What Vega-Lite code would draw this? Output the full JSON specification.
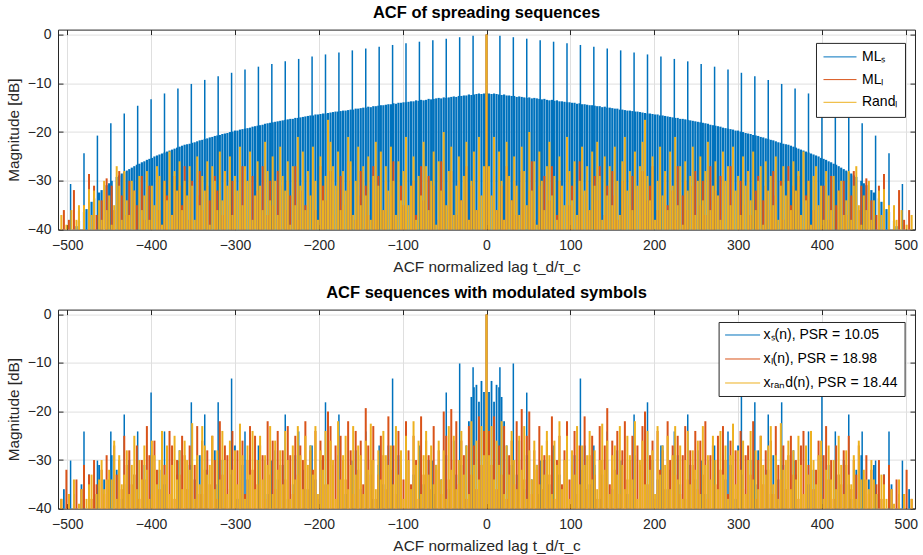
{
"$schema":"https://vega.github.io/schema/vega-lite/v6.json",
"background":"white",
"padding":{"left":6,"top":4.6,"right":5,"bottom":0},
"spacing":9,
"config":{
"font":"Liberation Sans",
"view":{"stroke":null},
"axis":{"labelFont":"Liberation Sans","labelFontSize":14,"labelColor":"#262626","titleFont":"Liberation Sans","titleFontSize":15.4,"titleFontWeight":"normal","titleColor":"#262626","tickColor":"#262626","tickSize":-5,"tickWidth":1,"domainColor":"#262626","domainWidth":1,"gridColor":"#dfdfdf","gridWidth":1,"labelFlush":false,"labelOverlap":false,"zindex":1},
"axisX":{"labelPadding":14,"titlePadding":7},
"axisY":{"labelPadding":12,"titlePadding":6},
"title":{"font":"Liberation Sans","fontSize":16.5,"fontWeight":"bold","color":"#000000","offset":6},
"legend":{"orient":"none","title":null,"strokeColor":"#262626","fillColor":"#ffffff","labelFont":"Liberation Sans","labelFontSize":14,"labelColor":"#000000","symbolType":"stroke","symbolStrokeWidth":1,"clipHeight":14}
},
"resolve":{"scale":{"color":"independent"},"legend":{"color":"independent"}},
"datasets":{
"t":[
{"x":-507,"r":-37},{"x":-504,"o":-36},{"x":-501,"r":-39},{"x":-498,"o":-38},{"x":-495,"r":-36},{"x":-492,"o":-31.9},{"x":-489,"b":-39.3,"r":-38},{"x":-486,"b":-38.2,"o":-36,"r":-35},{"x":-480,"b":-36.4,"o":-35,"r":-35},{"x":-477,"b":-35.8},{"x":-474,"o":-28.6,"r":-31.7},{"x":-471,"b":-34.3,"r":-37},{"x":-468,"b":-33.6,"o":-31,"r":-32},{"x":-465,"o":-37},{"x":-462,"b":-32.4,"r":-34},{"x":-459,"b":-31.9,"o":-34,"r":-38},{"x":-456,"r":-30},{"x":-453,"b":-30.9,"o":-29.5,"r":-36},{"x":-450,"b":-30.5,"r":-33},{"x":-447,"b":-30,"o":-31,"r":-39},{"x":-444,"o":-36,"r":-35},{"x":-441,"b":-29.2,"r":-27},{"x":-438,"b":-28.9,"o":-28,"r":-31},{"x":-435,"b":-28.5,"o":-33,"r":-38},{"x":-432,"b":-28.2,"r":-28},{"x":-429,"b":-27.9,"o":-37,"r":-34},{"x":-426,"b":-27.6,"o":-30,"r":-37},{"x":-423,"b":-27.3,"r":-30},{"x":-420,"b":-27,"o":-32,"r":-32},{"x":-417,"b":-26.7,"o":-35},{"x":-414,"b":-26.5,"r":-29},{"x":-411,"b":-26.2,"o":-29,"r":-36},{"x":-408,"b":-26,"o":-38,"r":-33},{"x":-405,"b":-25.7,"r":-28},{"x":-402,"b":-25.5,"o":-31,"r":-38},{"x":-399,"b":-25.3,"o":-34,"r":-31},{"x":-396,"b":-25,"r":-35},{"x":-393,"b":-24.8,"o":-28,"r":-27},{"x":-390,"b":-24.6,"o":-36,"r":-29},{"x":-387,"b":-24.4,"r":-39},{"x":-384,"b":-24.2,"o":-30,"r":-30},{"x":-381,"b":-24,"o":-33,"r":-34},{"x":-378,"b":-23.8,"r":-24},{"x":-375,"b":-23.6,"o":-37,"r":-37},{"x":-372,"b":-23.4,"o":-29,"r":-28},{"x":-369,"b":-23.2,"r":-32},{"x":-366,"b":-23,"o":-31,"r":-26},{"x":-363,"b":-22.8,"o":-35,"r":-36},{"x":-360,"b":-22.6,"o":-27,"r":-30},{"x":-357,"b":-22.5,"r":-33},{"x":-354,"b":-22.4,"o":-38,"r":-27},{"x":-351,"b":-22.2,"o":-30,"r":-31},{"x":-348,"b":-22.1,"r":-38},{"x":-345,"b":-21.9,"o":-33,"r":-25},{"x":-342,"b":-21.7,"o":-28,"r":-35},{"x":-339,"b":-21.6,"o":-36,"r":-29},{"x":-336,"b":-21.4,"r":-32},{"x":-333,"b":-21.3,"o":-31,"r":-26},{"x":-330,"b":-21.1,"o":-34,"r":-39},{"x":-327,"b":-21,"r":-27},{"x":-324,"b":-20.8,"o":-29,"r":-30},{"x":-321,"b":-20.7,"o":-32,"r":-36},{"x":-318,"b":-20.6,"r":-24},{"x":-315,"b":-20.4,"o":-37,"r":-34},{"x":-312,"b":-20.3,"o":-28,"r":-28},{"x":-309,"b":-20.2,"r":-31},{"x":-306,"b":-20,"o":-35,"r":-25},{"x":-303,"b":-19.9,"o":-30,"r":-37},{"x":-300,"b":-19.7,"o":-33,"r":-29},{"x":-297,"b":-19.7,"r":-32},{"x":-294,"b":-19.5,"o":-38,"r":-23},{"x":-291,"b":-19.4,"o":-27,"r":-35},{"x":-288,"b":-19.3,"o":-31,"r":-27},{"x":-285,"b":-19.2,"r":-30},{"x":-282,"b":-19.1,"o":-36,"r":-24},{"x":-279,"b":-18.9,"o":-29,"r":-38},{"x":-276,"b":-18.8,"r":-33},{"x":-273,"b":-18.7,"o":-32,"r":-26},{"x":-270,"b":-18.6,"o":-34,"r":-31},{"x":-267,"b":-18.5,"o":-27,"r":-36},{"x":-264,"b":-18.3,"r":-22},{"x":-261,"b":-18.2,"o":-37,"r":-28},{"x":-258,"b":-18.1,"o":-30,"r":-34},{"x":-255,"b":-18,"o":-35,"r":-25},{"x":-252,"b":-17.9,"r":-30},{"x":-249,"b":-17.8,"o":-28,"r":-37},{"x":-246,"b":-17.7,"o":-31,"r":-23},{"x":-243,"b":-17.6,"r":-29},{"x":-240,"b":-17.5,"o":-36,"r":-32},{"x":-237,"b":-17.4,"o":-30,"r":-26},{"x":-234,"b":-17.3,"o":-33,"r":-39},{"x":-231,"b":-17.3,"r":-27},{"x":-228,"b":-17.1,"o":-27,"r":-35},{"x":-225,"b":-17.1,"o":-38,"r":-21},{"x":-222,"b":-17,"o":-32,"r":-31},{"x":-219,"b":-16.9,"r":-24},{"x":-216,"b":-16.8,"o":-35,"r":-36},{"x":-213,"b":-16.7,"o":-29,"r":-28},{"x":-210,"b":-16.6,"r":-33},{"x":-207,"b":-16.6,"o":-30,"r":-23},{"x":-204,"b":-16.4,"o":-36,"r":-30},{"x":-201,"b":-16.4,"r":-38},{"x":-198,"b":-16.3,"o":-27,"r":-25},{"x":-195,"b":-16.2,"o":-31,"r":-34},{"x":-192,"b":-16.2,"o":-34,"r":-29},{"x":-189,"b":-16.1,"r":-17.5},{"x":-186,"b":-16,"o":-28,"r":-22},{"x":-183,"b":-15.9,"o":-37,"r":-27},{"x":-180,"b":-15.8,"r":-31},{"x":-177,"b":-15.8,"o":-32,"r":-24},{"x":-174,"b":-15.7,"o":-29,"r":-36},{"x":-171,"b":-15.6,"o":-35,"r":-28},{"x":-168,"b":-15.6,"r":-32},{"x":-165,"b":-15.5,"o":-26,"r":-21},{"x":-162,"b":-15.4,"o":-30,"r":-26},{"x":-159,"b":-15.4,"r":-37},{"x":-156,"b":-15.2,"o":-38,"r":-30},{"x":-153,"b":-15.2,"o":-33,"r":-23},{"x":-150,"b":-15.1,"o":-28,"r":-35},{"x":-147,"b":-15,"r":-27},{"x":-144,"b":-15,"o":-31,"r":-33},{"x":-141,"b":-14.8,"o":-37,"r":-25},{"x":-138,"b":-14.9,"r":-38},{"x":-135,"b":-14.7,"o":-27,"r":-29},{"x":-132,"b":-14.7,"o":-34,"r":-22},{"x":-129,"b":-14.6,"o":-29,"r":-31},{"x":-126,"b":-14.5,"r":-24},{"x":-123,"b":-14.5,"o":-36,"r":-36},{"x":-120,"b":-14.4,"o":-30,"r":-27},{"x":-117,"b":-14.3,"r":-32},{"x":-114,"b":-14.3,"o":-33,"r":-23},{"x":-111,"b":-14.1,"o":-26,"r":-30},{"x":-108,"b":-14.2,"o":-38,"r":-37},{"x":-105,"b":-14,"r":-26},{"x":-102,"b":-14,"o":-31,"r":-34},{"x":-99,"b":-13.9,"o":-35,"r":-28},{"x":-96,"b":-13.9,"o":-28,"r":-21},{"x":-93,"b":-13.8,"r":-35},{"x":-90,"b":-13.7,"o":-33,"r":-31},{"x":-87,"b":-13.7,"o":-30,"r":-25},{"x":-84,"b":-13.5,"o":-37,"r":-38},{"x":-81,"b":-13.6,"r":-29},{"x":-78,"b":-13.4,"o":-27,"r":-33},{"x":-75,"b":-13.5,"o":-34,"r":-22},{"x":-72,"b":-13.4,"r":-27},{"x":-69,"b":-13.2,"o":-29,"r":-36},{"x":-66,"b":-13.3,"o":-36,"r":-30},{"x":-63,"b":-13.2,"o":-31,"r":-24},{"x":-60,"b":-13.1,"r":-39},{"x":-57,"b":-13,"o":-38,"r":-26},{"x":-54,"b":-13.1,"o":-26,"r":-32},{"x":-51,"b":-12.9,"o":-32,"r":-20},{"x":-48,"b":-13,"r":-35},{"x":-45,"b":-12.9,"o":-35,"r":-28},{"x":-42,"b":-12.8,"o":-28,"r":-23},{"x":-39,"b":-12.7,"r":-37},{"x":-36,"b":-12.8,"o":-37,"r":-31},{"x":-33,"b":-12.6,"o":-30,"r":-25},{"x":-30,"b":-12.6,"o":-34,"r":-34},{"x":-27,"b":-12.5,"r":-29},{"x":-24,"b":-12.5,"o":-27,"r":-22},{"x":-21,"b":-12.3,"o":-38,"r":-38},{"x":-18,"b":-12.4,"o":-31,"r":-30},{"x":-15,"b":-12.3,"r":-24},{"x":-12,"b":-12.2,"o":-36,"r":-36},{"x":-9,"b":-12.1,"o":-29,"r":-21},{"x":-6,"b":-12.2,"r":-33},{"x":-3,"b":-12.1,"o":-33,"r":-27},
{"x":0,"b":-12,"o":0,"r":0},
{"x":3,"b":-12.1,"o":-33,"r":-27},{"x":6,"b":-12.2,"r":-33},{"x":9,"b":-12.1,"o":-29,"r":-21},{"x":12,"b":-12.2,"o":-36,"r":-36},{"x":15,"b":-12.3,"r":-24},{"x":18,"b":-12.4,"o":-31,"r":-30},{"x":21,"b":-12.3,"o":-38,"r":-38},{"x":24,"b":-12.5,"o":-27,"r":-22},{"x":27,"b":-12.5,"r":-29},{"x":30,"b":-12.6,"o":-34,"r":-34},{"x":33,"b":-12.6,"o":-30,"r":-25},{"x":36,"b":-12.8,"o":-37,"r":-31},{"x":39,"b":-12.7,"r":-37},{"x":42,"b":-12.8,"o":-28,"r":-23},{"x":45,"b":-12.9,"o":-35,"r":-28},{"x":48,"b":-13,"r":-35},{"x":51,"b":-12.9,"o":-32,"r":-20},{"x":54,"b":-13.1,"o":-26,"r":-32},{"x":57,"b":-13,"o":-38,"r":-26},{"x":60,"b":-13.1,"r":-39},{"x":63,"b":-13.2,"o":-31,"r":-24},{"x":66,"b":-13.3,"o":-36,"r":-30},{"x":69,"b":-13.2,"o":-29,"r":-36},{"x":72,"b":-13.4,"r":-27},{"x":75,"b":-13.5,"o":-34,"r":-22},{"x":78,"b":-13.4,"o":-27,"r":-33},{"x":81,"b":-13.6,"r":-29},{"x":84,"b":-13.5,"o":-37,"r":-38},{"x":87,"b":-13.7,"o":-30,"r":-25},{"x":90,"b":-13.7,"o":-33,"r":-31},{"x":93,"b":-13.8,"r":-35},{"x":96,"b":-13.9,"o":-28,"r":-21},{"x":99,"b":-13.9,"o":-35,"r":-28},{"x":102,"b":-14,"o":-31,"r":-34},{"x":105,"b":-14,"r":-26},{"x":108,"b":-14.2,"o":-38,"r":-37},{"x":111,"b":-14.1,"o":-26,"r":-30},{"x":114,"b":-14.3,"o":-33,"r":-23},{"x":117,"b":-14.3,"r":-32},{"x":120,"b":-14.4,"o":-30,"r":-27},{"x":123,"b":-14.5,"o":-36,"r":-36},{"x":126,"b":-14.5,"r":-24},{"x":129,"b":-14.6,"o":-29,"r":-31},{"x":132,"b":-14.7,"o":-34,"r":-22},{"x":135,"b":-14.7,"o":-27,"r":-29},{"x":138,"b":-14.9,"r":-38},{"x":141,"b":-14.8,"o":-37,"r":-25},{"x":144,"b":-15,"o":-31,"r":-33},{"x":147,"b":-15,"r":-27},{"x":150,"b":-15.1,"o":-28,"r":-35},{"x":153,"b":-15.2,"o":-33,"r":-23},{"x":156,"b":-15.2,"o":-38,"r":-30},{"x":159,"b":-15.4,"r":-37},{"x":162,"b":-15.4,"o":-30,"r":-26},{"x":165,"b":-15.5,"o":-26,"r":-21},{"x":168,"b":-15.6,"r":-32},{"x":171,"b":-15.6,"o":-35,"r":-28},{"x":174,"b":-15.7,"o":-29,"r":-36},{"x":177,"b":-15.8,"o":-32,"r":-24},{"x":180,"b":-15.8,"r":-31},{"x":183,"b":-15.9,"o":-37,"r":-27},{"x":186,"b":-16,"o":-28,"r":-22},{"x":189,"b":-16.1,"r":-17.5},{"x":192,"b":-16.2,"o":-34,"r":-29},{"x":195,"b":-16.2,"o":-31,"r":-34},{"x":198,"b":-16.3,"o":-27,"r":-25},{"x":201,"b":-16.4,"r":-38},{"x":204,"b":-16.4,"o":-36,"r":-30},{"x":207,"b":-16.6,"o":-30,"r":-23},{"x":210,"b":-16.6,"r":-33},{"x":213,"b":-16.7,"o":-29,"r":-28},{"x":216,"b":-16.8,"o":-35,"r":-36},{"x":219,"b":-16.9,"r":-24},{"x":222,"b":-17,"o":-32,"r":-31},{"x":225,"b":-17.1,"o":-38,"r":-21},{"x":228,"b":-17.1,"o":-27,"r":-35},{"x":231,"b":-17.3,"r":-27},{"x":234,"b":-17.3,"o":-33,"r":-39},{"x":237,"b":-17.4,"o":-30,"r":-26},{"x":240,"b":-17.5,"o":-36,"r":-32},{"x":243,"b":-17.6,"r":-29},{"x":246,"b":-17.7,"o":-31,"r":-23},{"x":249,"b":-17.8,"o":-28,"r":-37},{"x":252,"b":-17.9,"r":-30},{"x":255,"b":-18,"o":-35,"r":-25},{"x":258,"b":-18.1,"o":-30,"r":-34},{"x":261,"b":-18.2,"o":-37,"r":-28},{"x":264,"b":-18.3,"r":-22},{"x":267,"b":-18.5,"o":-27,"r":-36},{"x":270,"b":-18.6,"o":-34,"r":-31},{"x":273,"b":-18.7,"o":-32,"r":-26},{"x":276,"b":-18.8,"r":-33},{"x":279,"b":-18.9,"o":-29,"r":-38},{"x":282,"b":-19.1,"o":-36,"r":-24},{"x":285,"b":-19.2,"r":-30},{"x":288,"b":-19.3,"o":-31,"r":-27},{"x":291,"b":-19.4,"o":-27,"r":-35},{"x":294,"b":-19.5,"o":-38,"r":-23},{"x":297,"b":-19.7,"r":-32},{"x":300,"b":-19.7,"o":-33,"r":-29},{"x":303,"b":-19.9,"o":-30,"r":-37},{"x":306,"b":-20,"o":-35,"r":-25},{"x":309,"b":-20.2,"r":-31},{"x":312,"b":-20.3,"o":-28,"r":-28},{"x":315,"b":-20.4,"o":-37,"r":-34},{"x":318,"b":-20.6,"r":-24},{"x":321,"b":-20.7,"o":-32,"r":-36},{"x":324,"b":-20.8,"o":-29,"r":-30},{"x":327,"b":-21,"r":-27},{"x":330,"b":-21.1,"o":-34,"r":-39},{"x":333,"b":-21.3,"o":-31,"r":-26},{"x":336,"b":-21.4,"r":-32},{"x":339,"b":-21.6,"o":-36,"r":-29},{"x":342,"b":-21.7,"o":-28,"r":-35},{"x":345,"b":-21.9,"o":-33,"r":-25},{"x":348,"b":-22.1,"r":-38},{"x":351,"b":-22.2,"o":-30,"r":-31},{"x":354,"b":-22.4,"o":-38,"r":-27},{"x":357,"b":-22.5,"r":-33},{"x":360,"b":-22.6,"o":-27,"r":-30},{"x":363,"b":-22.8,"o":-35,"r":-36},{"x":366,"b":-23,"o":-31,"r":-26},{"x":369,"b":-23.2,"r":-32},{"x":372,"b":-23.4,"o":-29,"r":-28},{"x":375,"b":-23.6,"o":-37,"r":-37},{"x":378,"b":-23.8,"r":-24},{"x":381,"b":-24,"o":-33,"r":-34},{"x":384,"b":-24.2,"o":-30,"r":-30},{"x":387,"b":-24.4,"r":-39},{"x":390,"b":-24.6,"o":-36,"r":-29},{"x":393,"b":-24.8,"o":-28,"r":-27},{"x":396,"b":-25,"r":-35},{"x":399,"b":-25.3,"o":-34,"r":-31},{"x":402,"b":-25.5,"o":-31,"r":-38},{"x":405,"b":-25.7,"r":-28},{"x":408,"b":-26,"o":-38,"r":-33},{"x":411,"b":-26.2,"o":-29,"r":-36},{"x":414,"b":-26.5,"r":-29},{"x":417,"b":-26.7,"o":-35},{"x":420,"b":-27,"o":-32,"r":-32},{"x":423,"b":-27.3,"r":-30},{"x":426,"b":-27.6,"o":-30,"r":-37},{"x":429,"b":-27.9,"o":-37,"r":-34},{"x":432,"b":-28.2,"r":-28},{"x":435,"b":-28.5,"o":-33,"r":-38},{"x":438,"b":-28.9,"o":-28,"r":-31},{"x":441,"b":-29.2,"r":-27},{"x":444,"o":-36,"r":-35},{"x":447,"b":-30,"o":-31,"r":-39},{"x":450,"b":-30.5,"r":-33},{"x":453,"b":-30.9,"o":-29.5,"r":-36},{"x":456,"r":-30},{"x":459,"b":-31.9,"o":-34,"r":-38},{"x":462,"b":-32.4,"r":-34},{"x":465,"o":-37},{"x":468,"b":-33.6,"o":-31,"r":-32},{"x":471,"b":-34.3,"r":-37},{"x":474,"o":-28.6,"r":-31.7},{"x":477,"b":-35.8},{"x":480,"b":-36.4,"o":-35,"r":-35},{"x":486,"b":-38.2,"o":-36,"r":-35},{"x":489,"b":-39.3,"r":-38},{"x":492,"o":-31.9},{"x":495,"r":-36},{"x":498,"o":-38},{"x":501,"r":-39},{"x":504,"o":-36},{"x":507,"r":-37}
],
"tp":[
{"x":-496,"y":-30.65},{"x":-480,"y":-24.34},{"x":-464,"y":-20.73},{"x":-448,"y":-18.18},{"x":-432,"y":-16.22},{"x":-416,"y":-14.61},{"x":-400,"y":-13.26},{"x":-384,"y":-12.09},{"x":-368,"y":-11.06},{"x":-352,"y":-10.14},{"x":-336,"y":-9.31},{"x":-320,"y":-8.55},{"x":-304,"y":-7.85},{"x":-288,"y":-7.2},{"x":-272,"y":-6.6},{"x":-256,"y":-6.04},{"x":-240,"y":-5.51},{"x":-224,"y":-5.01},{"x":-208,"y":-4.54},{"x":-192,"y":-4.09},{"x":-176,"y":-3.67},{"x":-160,"y":-3.26},{"x":-144,"y":-2.88},{"x":-128,"y":-2.5},{"x":-112,"y":-2.15},{"x":-96,"y":-1.81},{"x":-80,"y":-1.48},{"x":-64,"y":-1.16},{"x":-48,"y":-0.86},{"x":-32,"y":-0.56},{"x":-16,"y":-0.28},{"x":0,"y":0},{"x":16,"y":-0.28},{"x":32,"y":-0.56},{"x":48,"y":-0.86},{"x":64,"y":-1.16},{"x":80,"y":-1.48},{"x":96,"y":-1.81},{"x":112,"y":-2.15},{"x":128,"y":-2.5},{"x":144,"y":-2.88},{"x":160,"y":-3.26},{"x":176,"y":-3.67},{"x":192,"y":-4.09},{"x":208,"y":-4.54},{"x":224,"y":-5.01},{"x":240,"y":-5.51},{"x":256,"y":-6.04},{"x":272,"y":-6.6},{"x":288,"y":-7.2},{"x":304,"y":-7.85},{"x":320,"y":-8.55},{"x":336,"y":-9.31},{"x":352,"y":-10.14},{"x":368,"y":-11.06},{"x":384,"y":-12.09},{"x":400,"y":-13.26},{"x":416,"y":-14.61},{"x":432,"y":-16.22},{"x":448,"y":-18.18},{"x":464,"y":-20.73},{"x":480,"y":-24.34},{"x":496,"y":-30.65}
],
"b":[
{"x":-507,"o":-38,"r":-38},{"x":-504,"s":-36},{"x":-501,"o":-32},{"x":-498,"s":-39,"o":-37,"r":-37},{"x":-492,"s":-37,"o":-39,"r":-34},{"x":-489,"o":-34},{"x":-486,"r":-39},{"x":-483,"s":-35,"o":-36,"r":-36},{"x":-480,"s":-38,"o":-31},{"x":-477,"r":-38},{"x":-474,"s":-33,"o":-33,"r":-35},{"x":-471,"o":-38,"r":-33},{"x":-468,"o":-30},{"x":-465,"s":-37,"o":-35,"r":-37},{"x":-462,"s":-31,"r":-34},{"x":-459,"o":-32,"r":-30},{"x":-456,"s":-34,"o":-37,"r":-36},{"x":-453,"o":-29,"r":-34},{"x":-450,"s":-36,"o":-34,"r":-32},{"x":-447,"s":-29,"r":-34},{"x":-444,"o":-27,"r":-26},{"x":-441,"s":-32,"o":-33,"r":-38},{"x":-438,"o":-30,"r":-29},{"x":-435,"s":-38,"o":-36,"r":-35},{"x":-432,"s":-35,"o":-25,"r":-33},{"x":-429,"o":-31,"r":-28},{"x":-426,"s":-30,"o":-28,"r":-37},{"x":-423,"o":-35,"r":-31},{"x":-420,"s":-33,"o":-33,"r":-25},{"x":-417,"s":-36,"o":-27,"r":-36},{"x":-414,"o":-38,"r":-30},{"x":-411,"o":-30,"r":-34},{"x":-408,"s":-31,"o":-34,"r":-27},{"x":-405,"s":-34,"o":-23,"r":-32},{"x":-402,"o":-29,"r":-38},{"x":-399,"s":-29,"o":-37,"r":-26},{"x":-396,"o":-26,"r":-29},{"x":-393,"s":-37,"o":-32,"r":-35},{"x":-390,"s":-32,"o":-36,"r":-30},{"x":-387,"o":-28,"r":-24},{"x":-384,"s":-35,"o":-31,"r":-33},{"x":-381,"s":-30,"o":-35,"r":-27},{"x":-378,"o":-24,"r":-37},{"x":-375,"s":-38,"o":-27,"r":-31},{"x":-372,"o":-38,"r":-25},{"x":-369,"s":-33,"o":-30,"r":-34},{"x":-366,"s":-28,"o":-33,"r":-28},{"x":-363,"o":-25,"r":-36},{"x":-360,"o":-29,"r":-26},{"x":-357,"s":-36,"o":-36,"r":-30},{"x":-354,"s":-31,"o":-27,"r":-32},{"x":-351,"o":-34,"r":-22.4},{"x":-348,"s":-34,"o":-31,"r":-38},{"x":-345,"o":-23,"r":-29},{"x":-342,"s":-29,"o":-37,"r":-35},{"x":-339,"s":-37,"o":-26,"r":-23},{"x":-336,"o":-32,"r":-27},{"x":-333,"s":-32,"o":-28,"r":-33},{"x":-330,"o":-35,"r":-31},{"x":-327,"o":-25,"r":-25},{"x":-324,"s":-28,"o":-30,"r":-36},{"x":-321,"s":-35,"o":-38,"r":-28},{"x":-318,"o":-22,"r":-34},{"x":-315,"s":-30,"o":-33,"r":-24},{"x":-312,"s":-36,"o":-27,"r":-30},{"x":-309,"o":-29,"r":-37},{"x":-306,"s":-33,"o":-36,"r":-26},{"x":-303,"o":-24,"r":-32},{"x":-300,"s":-27,"o":-31,"r":-28},{"x":-297,"s":-38,"o":-28,"r":-35},{"x":-294,"o":-34,"r":-22.5},{"x":-291,"s":-31,"o":-26,"r":-29},{"x":-288,"o":-37,"r":-38},{"x":-285,"s":-34,"o":-30,"r":-27},{"x":-282,"s":-29,"o":-23,"r":-33},{"x":-279,"o":-32,"r":-24},{"x":-276,"s":-36,"o":-25,"r":-36},{"x":-273,"o":-35,"r":-30},{"x":-270,"s":-33,"o":-27,"r":-25},{"x":-267,"o":-29,"r":-34},{"x":-264,"s":-30,"o":-38,"r":-29},{"x":-261,"s":-37,"o":-22,"r":-31},{"x":-258,"o":-33,"r":-23},{"x":-255,"o":-26,"r":-37},{"x":-252,"s":-28,"o":-36,"r":-26},{"x":-249,"s":-34,"o":-24,"r":-32},{"x":-246,"o":-31,"r":-28},{"x":-243,"s":-31,"o":-28,"r":-35},{"x":-240,"o":-34,"r":-24},{"x":-237,"s":-38,"o":-23,"r":-30},{"x":-234,"o":-29,"r":-38},{"x":-231,"s":-35,"o":-37,"r":-27},{"x":-228,"s":-29,"o":-25,"r":-34},{"x":-225,"o":-33,"r":-23},{"x":-222,"o":-27,"r":-29},{"x":-219,"s":-32,"o":-30,"r":-36},{"x":-216,"s":-36,"o":-22,"r":-25},{"x":-213,"o":-36,"r":-31},{"x":-210,"s":-27,"o":-28,"r":-27},{"x":-207,"o":-32,"r":-33},{"x":-204,"s":-34,"o":-24,"r":-23},{"x":-201,"o":-38,"r":-37},{"x":-198,"s":-30,"o":-26,"r":-28},{"x":-195,"s":-38,"o":-29,"r":-32},{"x":-192,"o":-35,"r":-24},{"x":-189,"s":-31,"o":-20,"r":-35},{"x":-186,"o":-23,"r":-26},{"x":-183,"s":-35,"o":-31,"r":-30},{"x":-180,"o":-27,"r":-38},{"x":-177,"s":-29,"o":-36,"r":-22},{"x":-174,"o":-25,"r":-34},{"x":-171,"s":-32,"o":-30,"r":-29},{"x":-168,"s":-37,"o":-34,"r":-25},{"x":-165,"o":-22,"r":-36},{"x":-162,"o":-28,"r":-31},{"x":-159,"s":-34,"o":-37,"r":-23},{"x":-156,"s":-28,"o":-24,"r":-33},{"x":-153,"o":-32,"r":-27},{"x":-150,"s":-36,"o":-26,"r":-29},{"x":-147,"o":-35,"r":-37},{"x":-144,"s":-30,"o":-19.3,"r":-26},{"x":-141,"o":-27,"r":-32},{"x":-138,"s":-33,"o":-30,"r":-22.5},{"x":-135,"s":-38,"o":-23,"r":-30},{"x":-132,"o":-38,"r":-36},{"x":-129,"s":-31,"o":-33,"r":-28},{"x":-126,"o":-25,"r":-34},{"x":-123,"s":-35,"o":-29,"r":-24},{"x":-120,"o":-36,"r":-29},{"x":-117,"s":-27,"o":-21,"r":-31},{"x":-114,"s":-34,"o":-32,"r":-27},{"x":-111,"o":-27,"r":-35},{"x":-108,"o":-37,"r":-23},{"x":-105,"s":-29,"o":-24,"r":-33},{"x":-102,"s":-36,"o":-31,"r":-28},{"x":-99,"o":-34,"r":-38},{"x":-96,"s":-32,"o":-22,"r":-25},{"x":-93,"o":-28,"r":-30},{"x":-90,"s":-38,"o":-35,"r":-36},{"x":-87,"s":-33,"o":-25,"r":-22},{"x":-84,"o":-30,"r":-31},{"x":-81,"o":-38,"r":-26},{"x":-78,"s":-28,"o":-21,"r":-37},{"x":-75,"s":-35,"o":-33,"r":-29},{"x":-72,"o":-26,"r":-24},{"x":-69,"s":-30,"o":-29,"r":-33},{"x":-66,"o":-36,"r":-27},{"x":-63,"s":-37,"o":-23,"r":-35},{"x":-60,"s":-31,"o":-32,"r":-31},{"x":-57,"o":-28,"r":-26},{"x":-54,"s":-34,"o":-37,"r":-34},{"x":-51,"o":-20,"r":-28},{"x":-48,"s":-29,"o":-25,"r":-38},{"x":-45,"s":-36,"o":-34,"r":-23},{"x":-42,"o":-19.5,"r":-32},{"x":-39,"s":-26,"o":-30,"r":-25},{"x":-36,"s":-33,"o":-22,"r":-36},{"x":-33,"o":-35,"r":-30},{"x":-30,"s":-31,"o":-26,"r":-24},{"x":-27,"o":-29,"r":-33},{"x":-24,"s":-27,"o":-38,"r":-27},{"x":-21,"s":-22,"o":-23,"r":-37},{"x":-18,"s":-17,"o":-33,"r":-22},{"x":-15,"s":-15,"o":-27,"r":-31},{"x":-12,"s":-14.5,"o":-36,"r":-26},{"x":-9,"s":-18,"o":-21,"r":-34},{"x":-6,"s":-13.7,"o":-31,"r":-23},{"x":-3,"s":-16,"o":-24,"r":-29},
{"x":0,"o":0,"r":0},
{"x":3,"s":-16,"o":-24,"r":-29},{"x":6,"s":-13.7,"o":-31,"r":-23},{"x":9,"s":-18,"o":-21,"r":-34},{"x":12,"s":-14.5,"o":-36,"r":-26},{"x":15,"s":-15,"o":-27,"r":-31},{"x":18,"s":-17,"o":-33,"r":-22},{"x":21,"s":-22,"o":-23,"r":-37},{"x":24,"s":-27,"o":-38,"r":-27},{"x":27,"o":-29,"r":-33},{"x":30,"s":-31,"o":-26,"r":-24},{"x":33,"o":-35,"r":-30},{"x":36,"s":-33,"o":-22,"r":-36},{"x":39,"s":-26,"o":-30,"r":-25},{"x":42,"o":-19.5,"r":-32},{"x":45,"s":-36,"o":-34,"r":-23},{"x":48,"s":-29,"o":-25,"r":-38},{"x":51,"o":-20,"r":-28},{"x":54,"s":-34,"o":-37,"r":-34},{"x":57,"o":-28,"r":-26},{"x":60,"s":-31,"o":-32,"r":-31},{"x":63,"s":-37,"o":-23,"r":-35},{"x":66,"o":-36,"r":-27},{"x":69,"s":-30,"o":-29,"r":-33},{"x":72,"o":-26,"r":-24},{"x":75,"s":-35,"o":-33,"r":-29},{"x":78,"s":-28,"o":-21,"r":-37},{"x":81,"o":-38,"r":-26},{"x":84,"o":-30,"r":-31},{"x":87,"s":-33,"o":-25,"r":-22},{"x":90,"s":-38,"o":-35,"r":-36},{"x":93,"o":-28,"r":-30},{"x":96,"s":-32,"o":-22,"r":-25},{"x":99,"o":-34,"r":-38},{"x":102,"s":-36,"o":-31,"r":-28},{"x":105,"s":-29,"o":-24,"r":-33},{"x":108,"o":-37,"r":-23},{"x":111,"o":-27,"r":-35},{"x":114,"s":-34,"o":-32,"r":-27},{"x":117,"s":-27,"o":-21,"r":-31},{"x":120,"o":-36,"r":-29},{"x":123,"s":-35,"o":-29,"r":-24},{"x":126,"o":-25,"r":-34},{"x":129,"s":-31,"o":-33,"r":-28},{"x":132,"o":-38,"r":-36},{"x":135,"s":-38,"o":-23,"r":-30},{"x":138,"s":-33,"o":-30,"r":-22.5},{"x":141,"o":-27,"r":-32},{"x":144,"s":-30,"o":-19.3,"r":-26},{"x":147,"o":-35,"r":-37},{"x":150,"s":-36,"o":-26,"r":-29},{"x":153,"o":-32,"r":-27},{"x":156,"s":-28,"o":-24,"r":-33},{"x":159,"s":-34,"o":-37,"r":-23},{"x":162,"o":-28,"r":-31},{"x":165,"o":-22,"r":-36},{"x":168,"s":-37,"o":-34,"r":-25},{"x":171,"s":-32,"o":-30,"r":-29},{"x":174,"o":-25,"r":-34},{"x":177,"s":-29,"o":-36,"r":-22},{"x":180,"o":-27,"r":-38},{"x":183,"s":-35,"o":-31,"r":-30},{"x":186,"o":-23,"r":-26},{"x":189,"s":-31,"o":-20,"r":-35},{"x":192,"o":-35,"r":-24},{"x":195,"s":-38,"o":-29,"r":-32},{"x":198,"s":-30,"o":-26,"r":-28},{"x":201,"o":-38,"r":-37},{"x":204,"s":-34,"o":-24,"r":-23},{"x":207,"o":-32,"r":-33},{"x":210,"s":-27,"o":-28,"r":-27},{"x":213,"o":-36,"r":-31},{"x":216,"s":-36,"o":-22,"r":-25},{"x":219,"s":-32,"o":-30,"r":-36},{"x":222,"o":-27,"r":-29},{"x":225,"o":-33,"r":-23},{"x":228,"s":-29,"o":-25,"r":-34},{"x":231,"s":-35,"o":-37,"r":-27},{"x":234,"o":-29,"r":-38},{"x":237,"s":-38,"o":-23,"r":-30},{"x":240,"o":-34,"r":-24},{"x":243,"s":-31,"o":-28,"r":-35},{"x":246,"o":-31,"r":-28},{"x":249,"s":-34,"o":-24,"r":-32},{"x":252,"s":-28,"o":-36,"r":-26},{"x":255,"o":-26,"r":-37},{"x":258,"o":-33,"r":-23},{"x":261,"s":-37,"o":-22,"r":-31},{"x":264,"s":-30,"o":-38,"r":-29},{"x":267,"o":-29,"r":-34},{"x":270,"s":-33,"o":-27,"r":-25},{"x":273,"o":-35,"r":-30},{"x":276,"s":-36,"o":-25,"r":-36},{"x":279,"o":-32,"r":-24},{"x":282,"s":-29,"o":-23,"r":-33},{"x":285,"s":-34,"o":-30,"r":-27},{"x":288,"o":-37,"r":-38},{"x":291,"s":-31,"o":-26,"r":-29},{"x":294,"o":-34,"r":-22.5},{"x":297,"s":-38,"o":-28,"r":-35},{"x":300,"s":-27,"o":-31,"r":-28},{"x":303,"o":-24,"r":-32},{"x":306,"s":-33,"o":-36,"r":-26},{"x":309,"o":-29,"r":-37},{"x":312,"s":-36,"o":-27,"r":-30},{"x":315,"s":-30,"o":-33,"r":-24},{"x":318,"o":-22,"r":-34},{"x":321,"s":-35,"o":-38,"r":-28},{"x":324,"s":-28,"o":-30,"r":-36},{"x":327,"o":-25,"r":-25},{"x":330,"o":-35,"r":-31},{"x":333,"s":-32,"o":-28,"r":-33},{"x":336,"o":-32,"r":-27},{"x":339,"s":-37,"o":-26,"r":-23},{"x":342,"s":-29,"o":-37,"r":-35},{"x":345,"o":-23,"r":-29},{"x":348,"s":-34,"o":-31,"r":-38},{"x":351,"o":-34,"r":-22.4},{"x":354,"s":-31,"o":-27,"r":-32},{"x":357,"s":-36,"o":-36,"r":-30},{"x":360,"o":-29,"r":-26},{"x":363,"o":-25,"r":-36},{"x":366,"s":-28,"o":-33,"r":-28},{"x":369,"s":-33,"o":-30,"r":-34},{"x":372,"o":-38,"r":-25},{"x":375,"s":-38,"o":-27,"r":-31},{"x":378,"o":-24,"r":-37},{"x":381,"s":-30,"o":-35,"r":-27},{"x":384,"s":-35,"o":-31,"r":-33},{"x":387,"o":-28,"r":-24},{"x":390,"s":-32,"o":-36,"r":-30},{"x":393,"s":-37,"o":-32,"r":-35},{"x":396,"o":-26,"r":-29},{"x":399,"s":-29,"o":-37,"r":-26},{"x":402,"o":-29,"r":-38},{"x":405,"s":-34,"o":-23,"r":-32},{"x":408,"s":-31,"o":-34,"r":-27},{"x":411,"o":-30,"r":-34},{"x":414,"o":-38,"r":-30},{"x":417,"s":-36,"o":-27,"r":-36},{"x":420,"s":-33,"o":-33,"r":-25},{"x":423,"o":-35,"r":-31},{"x":426,"s":-30,"o":-28,"r":-37},{"x":429,"o":-31,"r":-28},{"x":432,"s":-35,"o":-25,"r":-33},{"x":435,"s":-38,"o":-36,"r":-35},{"x":438,"o":-30,"r":-29},{"x":441,"s":-32,"o":-33,"r":-38},{"x":444,"o":-27,"r":-26},{"x":447,"s":-29,"r":-34},{"x":450,"s":-36,"o":-34,"r":-32},{"x":453,"o":-29,"r":-34},{"x":456,"s":-34,"o":-37,"r":-36},{"x":459,"o":-32,"r":-30},{"x":462,"s":-31,"r":-34},{"x":465,"s":-37,"o":-35,"r":-37},{"x":468,"o":-30},{"x":471,"o":-38,"r":-33},{"x":474,"s":-33,"o":-33,"r":-35},{"x":477,"r":-38},{"x":480,"s":-38,"o":-31},{"x":483,"s":-35,"o":-36,"r":-36},{"x":486,"r":-39},{"x":489,"o":-34},{"x":492,"s":-37,"o":-39,"r":-34},{"x":498,"s":-39,"o":-37,"r":-37},{"x":501,"o":-32},{"x":504,"s":-36},{"x":507,"o":-38,"r":-38}
],
"bp":[
{"x":-496,"y":-30.1},{"x":-480,"y":-24.1},{"x":-464,"y":-30.1},{"x":-448,"y":-24.1},{"x":-432,"y":-20.6},{"x":-416,"y":-24.1},{"x":-400,"y":-16.1},{"x":-384,"y":-24.1},{"x":-368,"y":-30.1},{"x":-352,"y":-18.1},{"x":-336,"y":-20.6},{"x":-320,"y":-18.1},{"x":-304,"y":-13.2},{"x":-288,"y":-24.1},{"x":-272,"y":-27},{"x":-256,"y":-30.1},{"x":-240,"y":-20.6},{"x":-224,"y":-24.1},{"x":-208,"y":-27},{"x":-192,"y":-18.1},{"x":-176,"y":-20.6},{"x":-160,"y":-30.1},{"x":-144,"y":-24.1},{"x":-128,"y":-27},{"x":-112,"y":-13.2},{"x":-96,"y":-24.1},{"x":-80,"y":-27},{"x":-64,"y":-30.1},{"x":-48,"y":-16.1},{"x":-32,"y":-10.1},{"x":-16,"y":-10.9},{"x":0,"y":0},{"x":16,"y":-10.9},{"x":32,"y":-10.1},{"x":48,"y":-16.1},{"x":64,"y":-30.1},{"x":80,"y":-27},{"x":96,"y":-24.1},{"x":112,"y":-13.2},{"x":128,"y":-27},{"x":144,"y":-24.1},{"x":160,"y":-30.1},{"x":176,"y":-20.6},{"x":192,"y":-18.1},{"x":208,"y":-27},{"x":224,"y":-24.1},{"x":240,"y":-20.6},{"x":256,"y":-30.1},{"x":272,"y":-27},{"x":288,"y":-24.1},{"x":304,"y":-13.2},{"x":320,"y":-18.1},{"x":336,"y":-20.6},{"x":352,"y":-18.1},{"x":368,"y":-30.1},{"x":384,"y":-24.1},{"x":400,"y":-16.1},{"x":416,"y":-24.1},{"x":432,"y":-20.6},{"x":448,"y":-24.1},{"x":464,"y":-30.1},{"x":480,"y":-24.1},{"x":496,"y":-30.1}
]
},
"vconcat":[
{
"title":{"text":"ACF of spreading sequences"},
"width":857,"height":200,
"resolve":{"axis":{"x":"independent","y":"independent"}},
"layer":[
{"data":{"name":"t"},"mark":{"type":"rule","strokeWidth":2.2},
"encoding":{
"x":{"field":"x","type":"quantitative","scale":{"domain":[-511,511],"nice":false,"zero":false},"axis":{"values":[-500,-400,-300,-200,-100,0,100,200,300,400,500],"title":"ACF normalized lag t_d/τ_c","grid":true}},
"y":{"field":"b","type":"quantitative","scale":{"domain":[-40,1],"nice":false,"zero":false},"axis":{"values":[-40,-30,-20,-10,0],"title":"Magnitude [dB]","grid":true}},
"y2":{"datum":-40},
"color":{"datum":"MLₛ","type":"nominal","scale":{"domain":["MLₛ","MLₗ","Randₗ"],"range":["#0072BD","#D95319","#EDB120"]},"legend":{"legendX":758,"legendY":13.3,"symbolSize":1089,"symbolStrokeWidth":1,"labelOffset":5,"padding":7,"rowPadding":8.7,"encoding":{"symbols":{"update":{"strokeWidth":{"value":1}}}}}}
}},
{"data":{"name":"tp"},"mark":{"type":"rule","strokeWidth":1.5},
"encoding":{"x":{"field":"x","type":"quantitative","axis":null},"y":{"field":"y","type":"quantitative","axis":null},"y2":{"datum":-40},"color":{"datum":"MLₛ","type":"nominal"}}},
{"data":{"name":"t"},"mark":{"type":"rule","strokeWidth":2},
"encoding":{"x":{"field":"x","type":"quantitative","axis":null},"y":{"field":"o","type":"quantitative","axis":null},"y2":{"datum":-40},"color":{"datum":"MLₗ","type":"nominal"}}},
{"data":{"name":"t"},"mark":{"type":"rule","strokeWidth":2},
"encoding":{"x":{"field":"x","type":"quantitative","axis":null},"y":{"field":"r","type":"quantitative","axis":null},"y2":{"datum":-40},"color":{"datum":"Randₗ","type":"nominal"}}},
{"data":{"name":"tp"},"mark":{"type":"point","opacity":0},
"encoding":{"x":{"field":"x","type":"quantitative","axis":{"orient":"top","labels":false,"title":null,"grid":false,"values":[-500,-400,-300,-200,-100,0,100,200,300,400,500]}},"y":{"field":"y","type":"quantitative","axis":{"orient":"right","labels":false,"title":null,"grid":false,"values":[-40,-30,-20,-10,0]}}}}
]
},
{
"title":{"text":"ACF sequences with modulated symbols"},
"width":857,"height":199,
"resolve":{"axis":{"x":"independent","y":"independent"}},
"layer":[
{"data":{"name":"b"},"mark":{"type":"rule","strokeWidth":1.8},
"encoding":{
"x":{"field":"x","type":"quantitative","scale":{"domain":[-511,511],"nice":false,"zero":false},"axis":{"values":[-500,-400,-300,-200,-100,0,100,200,300,400,500],"title":"ACF normalized lag t_d/τ_c","grid":true}},
"y":{"field":"s","type":"quantitative","scale":{"domain":[-40,1],"nice":false,"zero":false},"axis":{"values":[-40,-30,-20,-10,0],"title":"Magnitude [dB]","grid":true}},
"y2":{"datum":-40},
"color":{"datum":"xₛ(n), PSR = 10.05","type":"nominal","scale":{"domain":["xₛ(n), PSR = 10.05","xₗ(n), PSR = 18.98","xᵣₐₙd(n), PSR = 18.44"],"range":["#0072BD","#D95319","#EDB120"]},"legend":{"legendX":660.6,"legendY":12.4,"symbolSize":1225,"symbolStrokeWidth":1,"labelOffset":3,"padding":6,"rowPadding":10,"encoding":{"symbols":{"update":{"strokeWidth":{"value":1}}}}}}
}},
{"data":{"name":"bp"},"mark":{"type":"rule","strokeWidth":1.5},
"encoding":{"x":{"field":"x","type":"quantitative","axis":null},"y":{"field":"y","type":"quantitative","axis":null},"y2":{"datum":-40},"color":{"datum":"xₛ(n), PSR = 10.05","type":"nominal"}}},
{"data":{"name":"b"},"mark":{"type":"rule","strokeWidth":2},
"encoding":{"x":{"field":"x","type":"quantitative","axis":null},"y":{"field":"o","type":"quantitative","axis":null},"y2":{"datum":-40},"color":{"datum":"xₗ(n), PSR = 18.98","type":"nominal"}}},
{"data":{"name":"b"},"mark":{"type":"rule","strokeWidth":2},
"encoding":{"x":{"field":"x","type":"quantitative","axis":null},"y":{"field":"r","type":"quantitative","axis":null},"y2":{"datum":-40},"color":{"datum":"xᵣₐₙd(n), PSR = 18.44","type":"nominal"}}},
{"data":{"name":"bp"},"mark":{"type":"point","opacity":0},
"encoding":{"x":{"field":"x","type":"quantitative","axis":{"orient":"top","labels":false,"title":null,"grid":false,"values":[-500,-400,-300,-200,-100,0,100,200,300,400,500]}},"y":{"field":"y","type":"quantitative","axis":{"orient":"right","labels":false,"title":null,"grid":false,"values":[-40,-30,-20,-10,0]}}}}
]
}
]
}
